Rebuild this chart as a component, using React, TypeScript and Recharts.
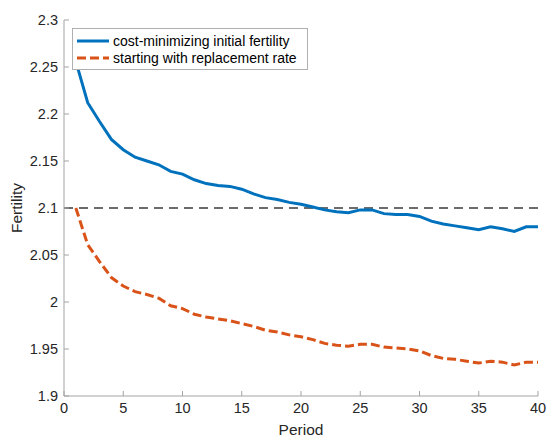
import { LineChart, Line, XAxis, YAxis, ReferenceLine, Legend } from 'recharts'

const PERIODS = Array.from({ length: 40 }, (_, i) => i + 1)

const COST_MINIMIZING = [
  2.256, 2.212, 2.192, 2.173, 2.162, 2.154, 2.15, 2.146, 2.139, 2.136,
  2.13, 2.126, 2.124, 2.123, 2.12, 2.115, 2.111, 2.109, 2.106, 2.104,
  2.101, 2.098, 2.096, 2.095, 2.098, 2.098, 2.094, 2.093, 2.093, 2.091,
  2.086, 2.083, 2.081, 2.079, 2.077, 2.08, 2.078, 2.075, 2.08, 2.08,
]

const REPLACEMENT_START = [
  2.1, 2.061, 2.043, 2.026, 2.017, 2.011, 2.008, 2.004, 1.996, 1.993,
  1.987, 1.984, 1.982, 1.98, 1.977, 1.974, 1.97, 1.968, 1.965, 1.963,
  1.96, 1.956, 1.954, 1.953, 1.955, 1.955, 1.952, 1.951, 1.95, 1.948,
  1.943, 1.94, 1.939, 1.937, 1.935, 1.937, 1.936, 1.933, 1.936, 1.936,
]

const REPLACEMENT_RATE = 2.1
const X_TICKS = [0, 5, 10, 15, 20, 25, 30, 35, 40]
const Y_TICKS = [1.9, 1.95, 2, 2.05, 2.1, 2.15, 2.2, 2.25, 2.3]

const SERIES = [
  { key: 'costMin', name: 'cost-minimizing initial fertility', color: '#0072BD', dash: undefined },
  { key: 'replacement', name: 'starting with replacement rate', color: '#D95319', dash: '9 4' },
]

const data = PERIODS.map((p, i) => ({
  period: p,
  costMin: COST_MINIMIZING[i],
  replacement: REPLACEMENT_START[i],
}))

const FONT = '"Liberation Sans", Arial, Helvetica, sans-serif'
const AXIS_COLOR = '#a3a3a3'
const TEXT_COLOR = '#262626'

function LegendBox() {
  return (
    <div
      style={{
        background: '#fff',
        border: '1px solid #b0b0b0',
        padding: '3px 10px 3px 4px',
        fontFamily: FONT,
        fontSize: 14,
        color: '#000',
      }}
    >
      {SERIES.map((s) => (
        <div key={s.key} style={{ display: 'flex', alignItems: 'center', height: 17 }}>
          <svg width={32} height={6} style={{ marginRight: 4 }}>
            <line
              x1={0}
              y1={3}
              x2={32}
              y2={3}
              stroke={s.color}
              strokeWidth={3}
              strokeDasharray={s.dash}
            />
          </svg>
          <span>{s.name}</span>
        </div>
      ))}
    </div>
  )
}

function YAxisTitle({ viewBox }: any) {
  const cx = 18
  const cy = viewBox.y + viewBox.height / 2
  return (
    <text
      x={cx}
      y={cy}
      transform={`rotate(-90 ${cx} ${cy})`}
      textAnchor="middle"
      dominantBaseline="middle"
      fontSize={15.5}
      fill={TEXT_COLOR}
      fontFamily={FONT}
    >
      Fertility
    </text>
  )
}

export default function App() {
  return (
    <div style={{ position: 'absolute', left: 0, top: 0, width: 547, height: 438, background: '#fff' }}>
      <LineChart
        width={547}
        height={438}
        data={data}
        margin={{ top: 20, right: 9, bottom: 0, left: 0 }}
      >
        <XAxis
          dataKey="period"
          type="number"
          domain={[0, 40]}
          ticks={X_TICKS}
          height={42}
          stroke={AXIS_COLOR}
          tickSize={-5}
          tickMargin={12}
          tick={{ fill: TEXT_COLOR, fontSize: 14.5, fontFamily: FONT }}
          label={{
            value: 'Period',
            position: 'insideBottom',
            offset: 3,
            fill: TEXT_COLOR,
            fontSize: 15.5,
            fontFamily: FONT,
          }}
        />
        <YAxis
          type="number"
          domain={[1.9, 2.3]}
          ticks={Y_TICKS}
          width={64}
          stroke={AXIS_COLOR}
          tickSize={-5}
          tickMargin={11}
          tickFormatter={(v: number) => String(Number(v.toFixed(2)))}
          tick={{ fill: TEXT_COLOR, fontSize: 14.5, fontFamily: FONT }}
          label={{ content: <YAxisTitle /> }}
        />
        <ReferenceLine
          y={REPLACEMENT_RATE}
          stroke="#6b6b6b"
          strokeWidth={2}
          strokeDasharray="9 6"
        />
        {SERIES.map((s) => (
          <Line
            key={s.key}
            type="linear"
            dataKey={s.key}
            name={s.name}
            stroke={s.color}
            strokeWidth={3}
            strokeDasharray={s.dash}
            dot={false}
            isAnimationActive={false}
          />
        ))}
        <Legend
          layout="vertical"
          align="center"
          verticalAlign="middle"
          content={<LegendBox />}
          wrapperStyle={{ left: 72, top: 28, width: 'auto', height: 'auto' }}
        />
      </LineChart>
    </div>
  )
}
